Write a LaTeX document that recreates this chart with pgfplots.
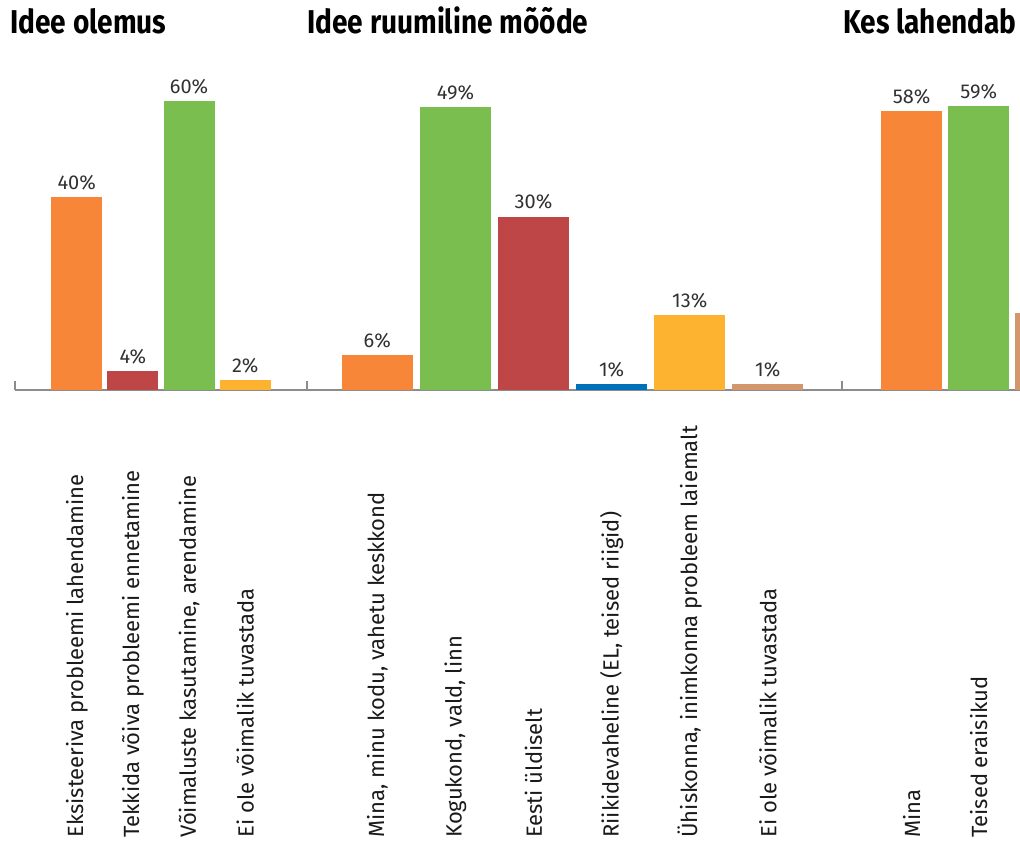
\documentclass[border=0pt]{standalone}
\usepackage{pgfplots}
\pgfplotsset{compat=1.18}
\usepackage{fontspec}
\setmainfont{Fira Sans}
\newfontfamily\titlefont[FakeStretch=0.85]{Fira Sans}
\definecolor{cOrange}{HTML}{F78638}
\definecolor{cRed}{HTML}{BE4646}
\definecolor{cGreen}{HTML}{7BBE50}
\definecolor{cYellow}{HTML}{FDB330}
\definecolor{cBlue}{HTML}{0070B8}
\definecolor{cTan}{HTML}{D4966C}
\definecolor{axisgray}{HTML}{8C8C8C}
\definecolor{labelcol}{HTML}{1A1A1A}
\pgfplotsset{
  grp/.style={
    scale only axis, height=168.5pt, ymin=0,
    anchor=south west, clip=false,
    hide y axis,
    axis x line*=bottom,
    x axis line style={draw=axisgray, line width=1pt, -},
    ybar, bar shift=0pt,
    major tick length=0pt,
    extra x tick labels={},
    extra x tick style={major tick length=4.5pt, tick align=inside, tick style={draw=axisgray, line width=1pt}},
    xticklabel style={font=\fontsize{11}{13}\selectfont, text=labelcol, yshift=-224pt, rotate=90, anchor=west, inner sep=0pt},
    nodes near coords={\pgfmathprintnumber{\pgfplotspointmeta}\%},
    every node near coord/.append style={font=\fontsize{10}{12}\selectfont, text=labelcol!90},
    /pgf/number format/assume math mode=true,
    title style={at={(0,1)}, anchor=base west, inner sep=0pt, yshift=4pt, font=\titlefont\bfseries\fontsize{16.5}{19}\selectfont},
    every axis plot/.append style={draw=none},
  }
}
\begin{document}
\begin{tikzpicture}[x=1pt,y=1pt]
\useasboundingbox (0,0) rectangle (510,421.5);
\clip (0,0) rectangle (510,421.5);
% Group 1
\begin{axis}[grp, at={(7.5pt,226.5pt)}, width=146pt, xmin=-1.1, xmax=4.1, ymax=70,
  bar width=0.91,
  xtick={0,1,2,3},
  xticklabels={Eksisteeriva probleemi lahendamine, Tekkida võiva probleemi ennetamine, {Võimaluste kasutamine, arendamine}, Ei ole võimalik tuvastada},
  extra x ticks={-1.1},
  title={Idee olemus}, title style={xshift=-2.5pt}]
\addplot[fill=cOrange] coordinates {(0,40)};
\addplot[fill=cRed] coordinates {(1,4)};
\addplot[fill=cGreen] coordinates {(2,60)};
\addplot[fill=cYellow] coordinates {(3,2)};
\end{axis}
% Group 2
\begin{axis}[grp, at={(153.5pt,226.5pt)}, width=267.5pt, xmin=-0.9, xmax=5.95, ymax=58.3,
  bar width=0.91,
  xtick={0,1,2,3,4,5},
  xticklabels={{Mina, minu kodu, vahetu keskkond}, {Kogukond, vald, linn}, Eesti üldiselt, {Riikidevaheline (EL, teised riigid)}, {Ühiskonna, inimkonna probleem laiemalt}, Ei ole võimalik tuvastada},
  extra x ticks={-0.9},
  title={Idee ruumiline mõõde}]
\addplot[fill=cOrange] coordinates {(0,6)};
\addplot[fill=cGreen] coordinates {(1,49)};
\addplot[fill=cRed] coordinates {(2,30)};
\addplot[fill=cBlue] coordinates {(3,1)};
\addplot[fill=cYellow] coordinates {(4,13)};
\addplot[fill=cTan] coordinates {(5,1)};
\end{axis}
% Group 3
\begin{axis}[grp, at={(421pt,226.5pt)}, width=135.3pt, xmin=-1.04, xmax=3, ymax=70,
  bar width=0.91,
  xtick={0,1,2},
  xticklabels={Mina, Teised eraisikud, {}},
  extra x ticks={-1.04},
  title={Kes lahendab probleemi}, title style={xshift=0.5pt}]
\addplot[fill=cOrange] coordinates {(0,58)};
\addplot[fill=cGreen] coordinates {(1,59)};
\addplot[fill=cTan, nodes near coords={}] coordinates {(2,16)};
\end{axis}
\end{tikzpicture}
\end{document}
